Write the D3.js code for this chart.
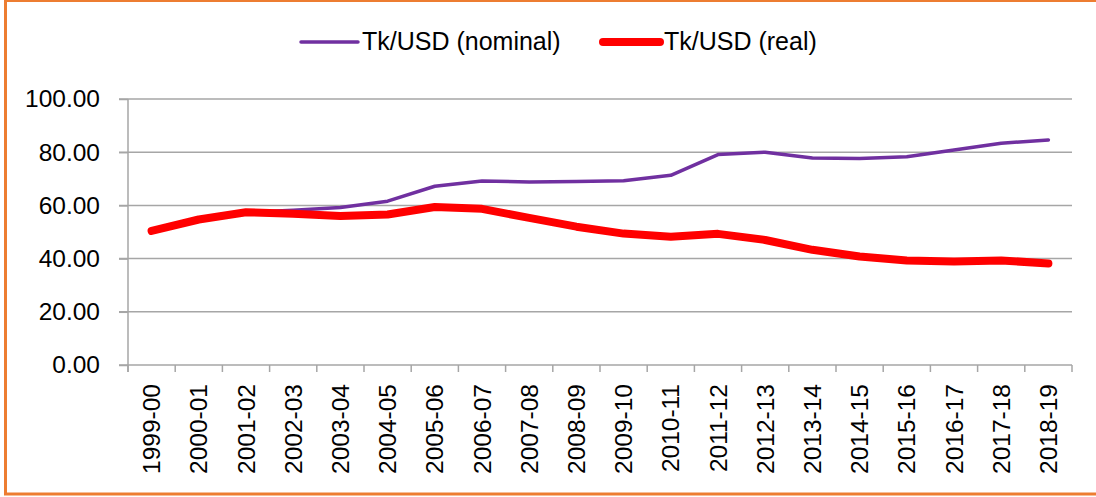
<!DOCTYPE html>
<html>
<head>
<meta charset="utf-8">
<script src="https://cdn.jsdelivr.net/npm/d3@7"></script>
<style>
	html, body { margin: 0; padding: 0; background: #fff; }
	svg { display: block; font-family: "Liberation Sans", Arial, sans-serif; }
	.axis text { fill: #000; }
</style>
</head>
<body>
<svg id="chart" width="1096" height="497"></svg>
<script>
"use strict";

// fiscal years on the x axis
var years = ['1999-00', '2000-01', '2001-02', '2002-03', '2003-04', '2004-05',
	'2005-06', '2006-07', '2007-08', '2008-09', '2009-10', '2010-11', '2011-12',
	'2012-13', '2013-14', '2014-15', '2015-16', '2016-17', '2017-18', '2018-19'];

// Tk/USD nominal exchange rate
var nominal = [50.4, 54.6, 57.4, 58.2, 59.2, 61.6, 67.2, 69.2, 68.8, 69.0,
	69.3, 71.3, 79.1, 80.0, 77.8, 77.6, 78.3, 80.8, 83.4, 84.6];

// Tk/USD real exchange rate
var real = [50.4, 54.7, 57.4, 56.9, 56.0, 56.6, 59.4, 58.7, 55.3, 52.0,
	49.4, 48.2, 49.3, 47.0, 43.3, 40.8, 39.3, 38.9, 39.3, 38.2];

var yTicks = [0, 20, 40, 60, 80, 100];

var series = [
	{ name: 'Tk/USD (nominal)', values: nominal, color: '#7030a0', width: 3.5 },
	{ name: 'Tk/USD (real)', values: real, color: '#ff0000', width: 8 }
];

var svg = d3.select('#chart');
var margin = { top: 99, right: 24, bottom: 132, left: 128 };
var W = +svg.attr('width');
var H = +svg.attr('height');

// orange frame round the chart
svg.append('rect')
	.attr('x', 5.5).attr('y', 0.5)
	.attr('width', W + 10).attr('height', 493.5)
	.attr('fill', 'none')
	.attr('stroke', '#ed7d31')
	.attr('stroke-width', 3);

var x = d3.scaleBand()
	.domain(years)
	.range([margin.left, W - margin.right])
	.padding(0);
var y = d3.scaleLinear()
	.domain([0, 100])
	.range([H - margin.bottom, margin.top]);

var GRID = '#a6a6a6';

// horizontal grid lines
svg.append('g')
	.selectAll('line')
	.data(yTicks)
	.enter()
	.append('line')
	.attr('x1', margin.left - 9)
	.attr('x2', W - margin.right)
	.attr('y1', function(d) { return y(d); })
	.attr('y2', function(d) { return y(d); })
	.attr('stroke', GRID)
	.attr('stroke-width', 1.5);

// y axis
var yaxisG = svg.append('g')
	.attr('class', 'axis axis-y')
	.attr('transform', 'translate(' + margin.left + ',0)')
	.call(d3.axisLeft(y)
		.tickValues(yTicks)
		.tickFormat(d3.format('.2f'))
		.tickSize(9)
		.tickPadding(19));
yaxisG.select('.domain')
	.attr('d', 'M0,' + margin.top + 'V' + (y(0) + 7))
	.attr('stroke', GRID)
	.attr('stroke-width', 1.5);
yaxisG.selectAll('.tick line').attr('stroke', GRID).attr('stroke-width', 1.5);
yaxisG.selectAll('text').attr('font-size', '24.5px');

// x axis: ticks on category boundaries, labels at centres
var xaxisG = svg.append('g')
	.attr('class', 'axis axis-x')
	.attr('transform', 'translate(0,' + y(0) + ')');
var bounds = d3.range(years.length + 1).map(function(i) {
	return x.range()[0] + i * x.step();
});
xaxisG.selectAll('line')
	.data(bounds)
	.enter()
	.append('line')
	.attr('x1', function(d) { return d; })
	.attr('x2', function(d) { return d; })
	.attr('y1', 0)
	.attr('y2', 7)
	.attr('stroke', GRID)
	.attr('stroke-width', 1.5);
xaxisG.selectAll('text')
	.data(years)
	.enter()
	.append('text')
	.attr('transform', function(d) {
		return 'translate(' + (x(d) + x.bandwidth() / 2) + ',19) rotate(-90)';
	})
	.attr('text-anchor', 'end')
	.attr('dy', '0.35em')
	.attr('font-size', '24.5px')
	.text(function(d) { return d; });

// series lines
var line = d3.line()
	.x(function(d, i) { return x(years[i]) + x.bandwidth() / 2; })
	.y(function(d) { return y(d); });

svg.append('g')
	.selectAll('path')
	.data(series)
	.enter()
	.append('path')
	.attr('d', function(d) { return line(d.values); })
	.attr('fill', 'none')
	.attr('stroke', function(d) { return d.color; })
	.attr('stroke-width', function(d) { return d.width; })
	.attr('stroke-linejoin', 'round')
	.attr('stroke-linecap', 'round');

// legend
var legendX = [301, 603];
var legend = svg.append('g')
	.selectAll('g')
	.data(series)
	.enter()
	.append('g')
	.attr('transform', function(d, i) { return 'translate(' + legendX[i] + ',42)'; });
legend.append('line')
	.attr('x1', 0).attr('x2', 57)
	.attr('y1', 0).attr('y2', 0)
	.attr('stroke', function(d) { return d.color; })
	.attr('stroke-width', function(d) { return d.width; })
	.attr('stroke-linecap', 'round');
legend.append('text')
	.attr('x', 61)
	.attr('y', 8)
	.attr('font-size', '25px')
	.attr('fill', '#000')
	.text(function(d) { return d.name; });
</script>
</body>
</html>
